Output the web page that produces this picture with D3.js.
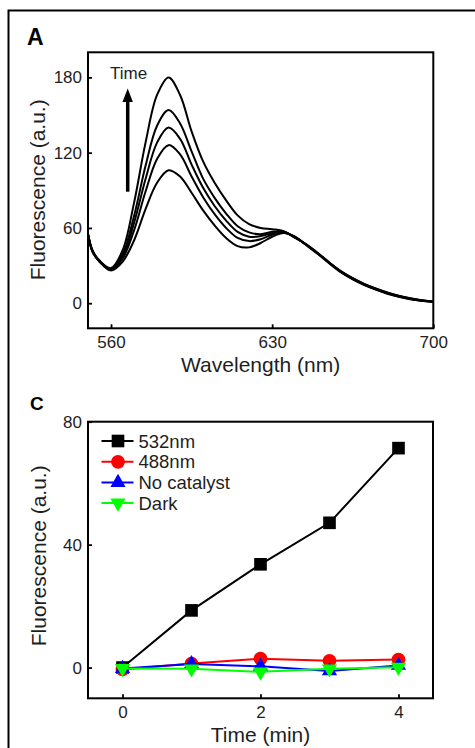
<!DOCTYPE html>
<html>
<head>
<meta charset="utf-8">
<script src="https://cdn.jsdelivr.net/npm/d3@7"></script>
<style>
  html, body { margin: 0; padding: 0; background: #fff; }
  svg { display: block; }
  text { font-family: "Liberation Sans", Arial, sans-serif; fill: #1e1e1e; }
</style>
</head>
<body>
<svg id="chart" width="475" height="748"></svg>
<script>
// ---------- Panel A data: fluorescence spectra over time ----------
const wavelengths = [550, 552, 555, 560, 565, 570, 575, 580, 585, 590, 595, 600, 605, 610, 615, 620, 625, 630, 635, 640, 645, 650, 655, 660, 665, 670, 675, 680, 685, 690, 695, 700];
const spectrum1 = [55, 41, 33, 26, 33, 50, 75, 96, 106, 101, 88, 74, 62, 52, 45.5, 44.5, 48, 53, 56, 53, 46, 39, 31.5, 24.5, 19, 14.5, 10.8, 7.6, 5.1, 3.2, 1.9, 1.0];
const spectrum2 = [55, 41, 33.3, 26.5, 35.4, 58, 89, 115, 126, 118.6, 101, 84.5, 71, 60, 52, 49.5, 51, 54.6, 56.4, 52.7, 46.2, 39.2, 31.7, 24.8, 19.3, 14.8, 11.1, 7.9, 5.3, 3.4, 2.0, 1.1];
const spectrum3 = [55, 41, 33.5, 27, 37, 64, 99, 128, 140, 131, 110.5, 92, 77.5, 65.8, 56.8, 53, 53.5, 55.8, 56.7, 52.5, 46.4, 39.4, 31.9, 25.0, 19.5, 15.0, 11.3, 8.1, 5.5, 3.5, 2.1, 1.2];
const spectrum4 = [55, 41.5, 33.7, 27.3, 39, 69.5, 109.5, 141.5, 154, 143.3, 121, 99.3, 84, 71.5, 61.4, 56.5, 55, 56.9, 57, 52.3, 46.6, 39.6, 32.1, 25.2, 19.7, 15.2, 11.5, 8.3, 5.7, 3.7, 2.2, 1.3];
const spectrum5 = [55, 42, 34, 28, 42, 80, 128, 166, 180, 166, 137, 113, 96, 82, 70, 63, 60, 59, 57.5, 52, 46.8, 39.8, 32.3, 25.4, 19.9, 15.4, 11.7, 8.5, 5.9, 3.9, 2.4, 1.4];
const spectra = [spectrum1, spectrum2, spectrum3, spectrum4, spectrum5];
const aXTicks = [560, 630, 700];
const aYTicks = [0, 60, 120, 180];

// ---------- Panel C data: fluorescence vs time ----------
const times = [0, 1, 2, 3, 4];
const seriesNames = ["532nm", "488nm", "No catalyst", "Dark"];
const values532 = [0, 18.6, 33.6, 47.1, 71.4];
const values488 = [-0.6, 1.3, 2.9, 2.2, 2.6];
const valuesNoCatalyst = [-0.3, 1.2, 0.4, -1.1, 0.7];
const valuesDark = [-0.3, -0.4, -1.4, -0.4, 0.1];
const seriesColors = ["#000000", "#ff0000", "#0000ff", "#00ff00"];
const cXTicks = [0, 2, 4];
const cYTicks = [0, 40, 80];

const svg = d3.select("#chart");

// Outer figure frame (only top and left edges visible)
svg.append("path")
  .attr("d", "M8.5,748 V10.5 H475")
  .attr("fill", "none").attr("stroke", "#000").attr("stroke-width", 2);

function drawAxes(g, x, y, xTicks, yTicks, box) {
  const xa = d3.axisBottom(x).tickValues(xTicks).tickSizeInner(-4).tickSizeOuter(0).tickPadding(8).tickFormat(d3.format("d"));
  const ya = d3.axisLeft(y).tickValues(yTicks).tickSizeInner(-4).tickSizeOuter(0).tickPadding(6).tickFormat(d3.format("d"));
  const gx = g.append("g").attr("transform", `translate(0,${box.b})`).call(xa);
  const gy = g.append("g").attr("transform", `translate(${box.l},0)`).call(ya);
  [gx, gy].forEach(a => {
    a.select(".domain").remove();
    a.selectAll(".tick line").attr("stroke", "#000").attr("stroke-width", 1.8);
    a.selectAll(".tick text").attr("font-size", 17).attr("fill", "#1e1e1e")
      .attr("font-family", "Liberation Sans, Arial, sans-serif");
  });
  g.append("rect")
    .attr("x", box.l).attr("y", box.t)
    .attr("width", box.r - box.l).attr("height", box.b - box.t)
    .attr("fill", "none").attr("stroke", "#000").attr("stroke-width", 2);
}

// ================= Panel A =================
const boxA = { l: 88, r: 433.3, t: 52.3, b: 328.3 };
const xA = d3.scaleLinear().domain([550, 700]).range([boxA.l, boxA.r]);
const yA = d3.scaleLinear().domain([-20, 200]).range([boxA.b, boxA.t]);
const gA = svg.append("g");

const lineA = d3.line()
  .x((d, i) => xA(wavelengths[i]))
  .y(d => yA(d))
  .curve(d3.curveCatmullRom.alpha(0.5));

gA.selectAll("path.spec").data(spectra).enter().append("path")
  .attr("class", "spec")
  .attr("d", d => lineA(d))
  .attr("fill", "none").attr("stroke", "#000").attr("stroke-width", 2)
  .attr("stroke-linejoin", "round");

drawAxes(gA, xA, yA, aXTicks, aYTicks, boxA);

// Time arrow
gA.append("line")
  .attr("x1", 127.7).attr("x2", 127.7).attr("y1", 191.7).attr("y2", 100)
  .attr("stroke", "#000").attr("stroke-width", 3.5);
gA.append("path")
  .attr("d", "M127.7,88.5 L122.5,102 L132.9,102 Z").attr("fill", "#000");
gA.append("text").attr("x", 110).attr("y", 79).attr("font-size", 17).text("Time");

gA.append("text").attr("x", 27).attr("y", 45).attr("font-size", 23).attr("font-weight", "bold")
  .style("fill", "#000").text("A");
gA.append("text").attr("x", (boxA.l + boxA.r) / 2).attr("y", 371.5)
  .attr("text-anchor", "middle").attr("font-size", 21).text("Wavelength (nm)");
gA.append("text")
  .attr("transform", `translate(44.5,${(boxA.t + boxA.b) / 2 - 0.5}) rotate(-90)`)
  .attr("text-anchor", "middle").attr("font-size", 21).text("Fluorescence (a.u.)");

// ================= Panel C =================
const boxC = { l: 88, r: 433, t: 421.7, b: 698.3 };
const xC = d3.scaleLinear().domain([-0.5, 4.5]).range([boxC.l, boxC.r]);
const yC = d3.scaleLinear().domain([-10, 80]).range([boxC.b, boxC.t]);
const gC = svg.append("g");

const seriesValues = [values532, values488, valuesNoCatalyst, valuesDark];
const symbols = [d3.symbolSquare, d3.symbolCircle, d3.symbolTriangle, d3.symbolTriangle];
const symSizes = [160, 150, 100, 100];
const symRot = [0, 0, 0, 180];

const lineC = d3.line().x((d, i) => xC(times[i])).y(d => yC(d));

drawAxes(gC, xC, yC, cXTicks, cYTicks, boxC);

seriesValues.forEach((vals, s) => {
  const g = gC.append("g");
  g.append("path").attr("d", lineC(vals))
    .attr("fill", "none").attr("stroke", seriesColors[s]).attr("stroke-width", 2);
  g.selectAll("path.m").data(vals).enter().append("path")
    .attr("class", "m")
    .attr("d", d3.symbol().type(symbols[s]).size(symSizes[s]))
    .attr("transform", (d, i) => `translate(${xC(times[i])},${yC(d)}) rotate(${symRot[s]})`)
    .attr("fill", seriesColors[s]);
});

// Legend
const legendY = [441, 461.8, 482.5, 503];
seriesNames.forEach((name, s) => {
  const ly = legendY[s];
  gC.append("line").attr("x1", 101.5).attr("x2", 133.5).attr("y1", ly).attr("y2", ly)
    .attr("stroke", seriesColors[s]).attr("stroke-width", 2);
  gC.append("path")
    .attr("d", d3.symbol().type(symbols[s]).size(symSizes[s]))
    .attr("transform", `translate(118,${ly}) rotate(${symRot[s]})`)
    .attr("fill", seriesColors[s]);
  gC.append("text").attr("x", 138.5).attr("y", ly + 6.5).attr("font-size", 18.5).text(name);
});

gC.append("text").attr("x", 30).attr("y", 410).attr("font-size", 19).attr("font-weight", "bold")
  .style("fill", "#000").text("C");
gC.append("text").attr("x", (boxC.l + boxC.r) / 2).attr("y", 741.5)
  .attr("text-anchor", "middle").attr("font-size", 21).text("Time (min)");
gC.append("text")
  .attr("transform", `translate(46,555.8) rotate(-90)`)
  .attr("text-anchor", "middle").attr("font-size", 21).text("Fluorescence (a.u.)");
</script>
</body>
</html>
